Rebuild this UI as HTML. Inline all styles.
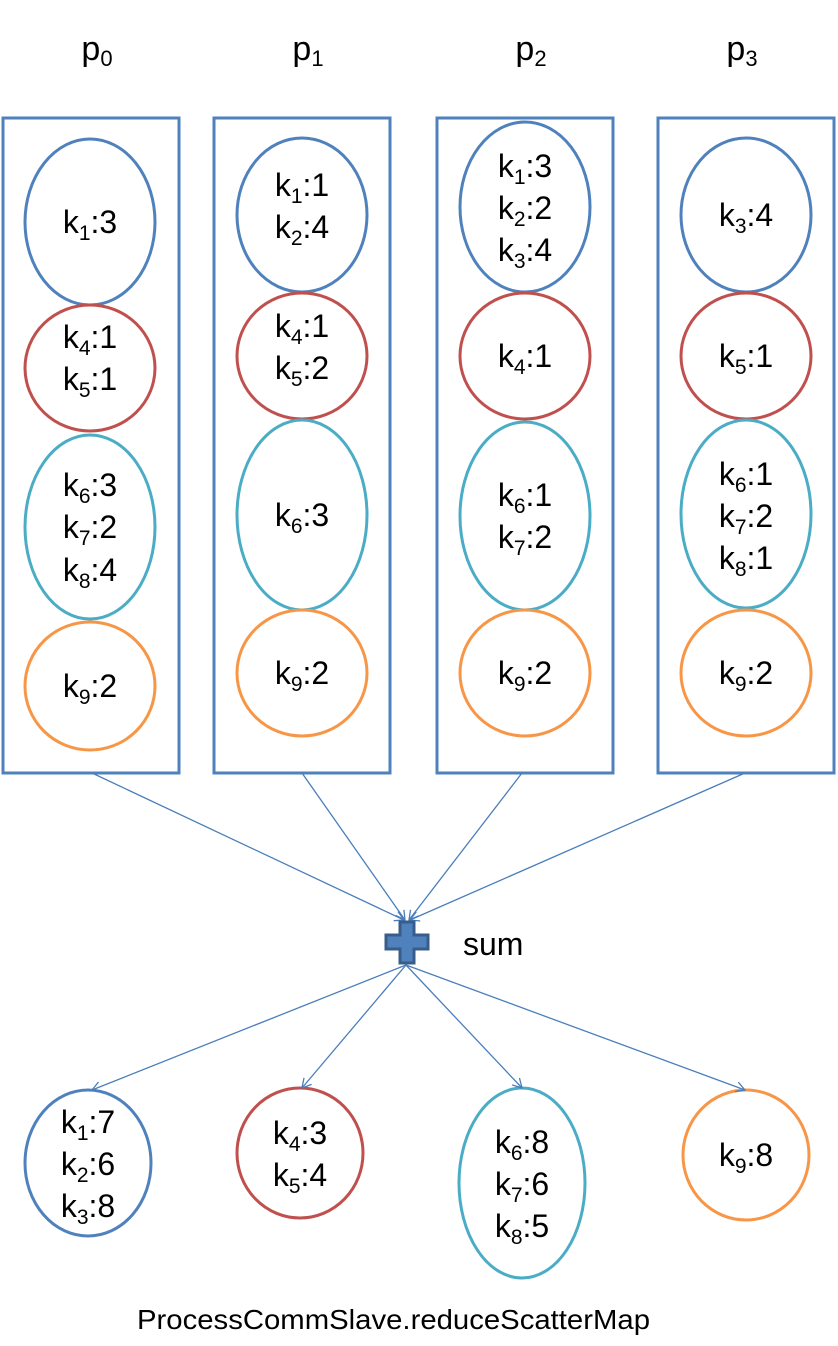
<!DOCTYPE html>
<html><head><style>body{margin:0;background:#fff}svg{display:block}text{font-family:"Liberation Sans",sans-serif;fill:#000}</style></head><body>
<svg width="838" height="1346" viewBox="0 0 838 1346" xmlns="http://www.w3.org/2000/svg">
<defs><marker id="a" markerWidth="12" markerHeight="12" refX="10" refY="6" orient="auto" markerUnits="userSpaceOnUse"><path d="M1,1 L10,6 L1,11" fill="none" stroke="#4a7ebb" stroke-width="1.3"/></marker></defs>
<g font-size="34" text-anchor="middle">
<text x="97" y="60">p<tspan font-size="22" dy="6">0</tspan></text>
<text x="308" y="60">p<tspan font-size="22" dy="6">1</tspan></text>
<text x="531" y="60">p<tspan font-size="22" dy="6">2</tspan></text>
<text x="742" y="60">p<tspan font-size="22" dy="6">3</tspan></text>
</g>
<g fill="none" stroke="#4f81bd" stroke-width="3">
<rect x="3" y="118" width="176" height="655"/><rect x="214" y="118" width="176" height="655"/><rect x="437" y="118" width="176" height="655"/><rect x="658" y="118" width="176" height="655"/>
</g>
<g fill="none" stroke-width="3">
<ellipse cx="90" cy="222" rx="65" ry="83" stroke="#4f81bd"/>
<ellipse cx="90" cy="368" rx="65" ry="63" stroke="#c0504d"/>
<ellipse cx="90" cy="527" rx="65" ry="92" stroke="#4bacc6"/>
<ellipse cx="90" cy="686" rx="65" ry="64" stroke="#f79646"/>
<ellipse cx="302" cy="215" rx="65" ry="77" stroke="#4f81bd"/>
<ellipse cx="302" cy="356" rx="65" ry="63" stroke="#c0504d"/>
<ellipse cx="302" cy="515" rx="65" ry="95" stroke="#4bacc6"/>
<ellipse cx="302" cy="673" rx="65" ry="63" stroke="#f79646"/>
<ellipse cx="525" cy="207" rx="65" ry="85" stroke="#4f81bd"/>
<ellipse cx="525" cy="356" rx="65" ry="63" stroke="#c0504d"/>
<ellipse cx="525" cy="516" rx="65" ry="94" stroke="#4bacc6"/>
<ellipse cx="525" cy="673" rx="65" ry="63" stroke="#f79646"/>
<ellipse cx="746" cy="215" rx="65" ry="77" stroke="#4f81bd"/>
<ellipse cx="746" cy="356" rx="65" ry="63" stroke="#c0504d"/>
<ellipse cx="746" cy="514" rx="65" ry="94" stroke="#4bacc6"/>
<ellipse cx="746" cy="673" rx="65" ry="63" stroke="#f79646"/>
<ellipse cx="88" cy="1163" rx="63" ry="73" stroke="#4f81bd"/>
<ellipse cx="300" cy="1153" rx="63" ry="65" stroke="#c0504d"/>
<ellipse cx="522" cy="1183" rx="63" ry="95" stroke="#4bacc6"/>
<ellipse cx="746" cy="1155" rx="63" ry="65" stroke="#f79646"/>
</g>
<g stroke="#4a7ebb" stroke-width="1.3" fill="none" marker-end="url(#a)">
<line x1="92" y1="773" x2="404" y2="920"/><line x1="302" y1="773" x2="405" y2="920"/><line x1="522" y1="773" x2="409" y2="920"/><line x1="745" y1="773" x2="410" y2="920"/>
<line x1="406" y1="965" x2="92" y2="1090"/><line x1="406" y1="965" x2="302" y2="1088"/><line x1="406" y1="965" x2="522" y2="1088"/><line x1="406" y1="965" x2="745" y2="1090"/>
</g>
<path d="M400,922 h14 v13 h14 v14 h-14 v14 h-14 v-14 h-14 v-14 h14 z" fill="#4f81bd" stroke="#385d8a" stroke-width="3"/>
<text x="463" y="955" font-size="32">sum</text>
<g font-size="32" text-anchor="middle">
<text x="90" y="233">k<tspan font-size="21" dy="7">1</tspan><tspan dy="-7">:3</tspan></text>
<text x="90" y="348">k<tspan font-size="21" dy="7">4</tspan><tspan dy="-7">:1</tspan></text>
<text x="90" y="390">k<tspan font-size="21" dy="7">5</tspan><tspan dy="-7">:1</tspan></text>
<text x="90" y="496">k<tspan font-size="21" dy="7">6</tspan><tspan dy="-7">:3</tspan></text>
<text x="90" y="538">k<tspan font-size="21" dy="7">7</tspan><tspan dy="-7">:2</tspan></text>
<text x="90" y="581">k<tspan font-size="21" dy="7">8</tspan><tspan dy="-7">:4</tspan></text>
<text x="90" y="697">k<tspan font-size="21" dy="7">9</tspan><tspan dy="-7">:2</tspan></text>
<text x="302" y="196">k<tspan font-size="21" dy="7">1</tspan><tspan dy="-7">:1</tspan></text>
<text x="302" y="238">k<tspan font-size="21" dy="7">2</tspan><tspan dy="-7">:4</tspan></text>
<text x="302" y="337">k<tspan font-size="21" dy="7">4</tspan><tspan dy="-7">:1</tspan></text>
<text x="302" y="379">k<tspan font-size="21" dy="7">5</tspan><tspan dy="-7">:2</tspan></text>
<text x="302" y="526">k<tspan font-size="21" dy="7">6</tspan><tspan dy="-7">:3</tspan></text>
<text x="302" y="684">k<tspan font-size="21" dy="7">9</tspan><tspan dy="-7">:2</tspan></text>
<text x="525" y="177">k<tspan font-size="21" dy="7">1</tspan><tspan dy="-7">:3</tspan></text>
<text x="525" y="219">k<tspan font-size="21" dy="7">2</tspan><tspan dy="-7">:2</tspan></text>
<text x="525" y="261">k<tspan font-size="21" dy="7">3</tspan><tspan dy="-7">:4</tspan></text>
<text x="525" y="367">k<tspan font-size="21" dy="7">4</tspan><tspan dy="-7">:1</tspan></text>
<text x="525" y="506">k<tspan font-size="21" dy="7">6</tspan><tspan dy="-7">:1</tspan></text>
<text x="525" y="548">k<tspan font-size="21" dy="7">7</tspan><tspan dy="-7">:2</tspan></text>
<text x="525" y="684">k<tspan font-size="21" dy="7">9</tspan><tspan dy="-7">:2</tspan></text>
<text x="746" y="226">k<tspan font-size="21" dy="7">3</tspan><tspan dy="-7">:4</tspan></text>
<text x="746" y="367">k<tspan font-size="21" dy="7">5</tspan><tspan dy="-7">:1</tspan></text>
<text x="746" y="485">k<tspan font-size="21" dy="7">6</tspan><tspan dy="-7">:1</tspan></text>
<text x="746" y="527">k<tspan font-size="21" dy="7">7</tspan><tspan dy="-7">:2</tspan></text>
<text x="746" y="569">k<tspan font-size="21" dy="7">8</tspan><tspan dy="-7">:1</tspan></text>
<text x="746" y="684">k<tspan font-size="21" dy="7">9</tspan><tspan dy="-7">:2</tspan></text>
<text x="88" y="1133">k<tspan font-size="21" dy="7">1</tspan><tspan dy="-7">:7</tspan></text>
<text x="88" y="1175">k<tspan font-size="21" dy="7">2</tspan><tspan dy="-7">:6</tspan></text>
<text x="88" y="1217">k<tspan font-size="21" dy="7">3</tspan><tspan dy="-7">:8</tspan></text>
<text x="300" y="1144">k<tspan font-size="21" dy="7">4</tspan><tspan dy="-7">:3</tspan></text>
<text x="300" y="1186">k<tspan font-size="21" dy="7">5</tspan><tspan dy="-7">:4</tspan></text>
<text x="522" y="1153">k<tspan font-size="21" dy="7">6</tspan><tspan dy="-7">:8</tspan></text>
<text x="522" y="1195">k<tspan font-size="21" dy="7">7</tspan><tspan dy="-7">:6</tspan></text>
<text x="522" y="1237">k<tspan font-size="21" dy="7">8</tspan><tspan dy="-7">:5</tspan></text>
<text x="746" y="1166">k<tspan font-size="21" dy="7">9</tspan><tspan dy="-7">:8</tspan></text>
</g>
<text x="137" y="1329" font-size="28" textLength="513" lengthAdjust="spacingAndGlyphs">ProcessCommSlave.reduceScatterMap</text>
</svg>
</body></html>
